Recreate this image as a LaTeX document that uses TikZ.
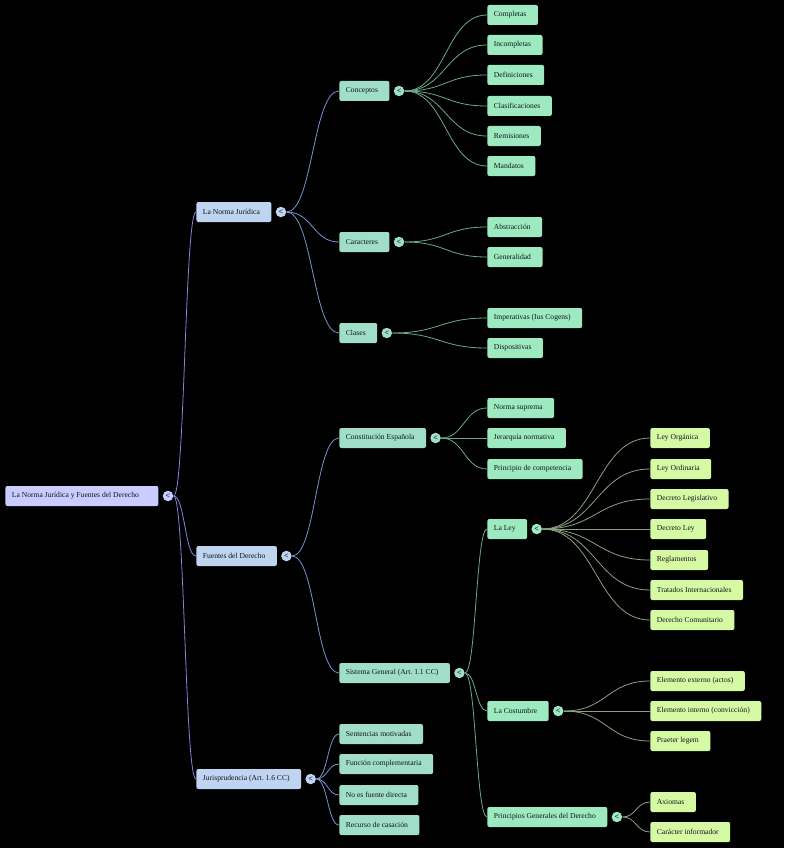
\documentclass[tikz,border=0pt]{standalone}
\usepackage{fontspec}
\setmainfont{Liberation Serif}
\usetikzlibrary{positioning,calc}
\definecolor{rootfill}{RGB}{200,204,255}
\definecolor{onefill}{RGB}{190,212,240}
\definecolor{twofill}{RGB}{160,222,202}
\definecolor{threefill}{RGB}{158,234,192}
\definecolor{fourfill}{RGB}{214,250,164}
\definecolor{linkroot}{RGB}{132,132,222}
\definecolor{linkone}{RGB}{118,150,210}
\definecolor{linktwo}{RGB}{108,168,140}
\definecolor{linkthree}{RGB}{138,160,128}
\definecolor{inktext}{RGB}{15,22,26}
\frenchspacing
% curved link from a toggle to a child box
\newcommand{\branch}[3]{%
  \draw[#1] let \p1=(#2.east), \p2=(#3.west) in
    (\p1) .. controls ({(\x1+\x2)/2},\y1) and ({(\x1+\x2)/2},\y2) .. (\p2);}

\begin{document}
\begin{tikzpicture}[x=1pt, y=-1pt, font=\fontsize{7.6}{9}\selectfont,
    box/.style={rounded corners=2pt, minimum height=20pt, inner xsep=6.5pt,
      inner ysep=0pt, anchor=west, text=inktext, execute at end node={\kern5pt}},
    tog/.style={circle, fill=#1, minimum size=10.5pt, inner sep=0pt, text=inktext,
      font=\fontsize{8}{8}\selectfont\bfseries},
    every path/.style={line width=0.8pt}]
  \fill[black] (0,0) rectangle (784,848);

  % root
  \node[box, fill=rootfill] (root) at (5,496) {La Norma Jurídica y Fuentes del Derecho\kern8pt};
  \node[tog=rootfill, right=3.5pt of root] (root-t) {<};

  % first level
  \node[box, fill=onefill] (norma) at (196,212) {La Norma Jurídica};
  \node[tog=onefill, right=3.5pt of norma] (norma-t) {<};
  \node[box, fill=onefill] (fuentes) at (196,556) {Fuentes del Derecho};
  \node[tog=onefill, right=3.5pt of fuentes] (fuentes-t) {<};
  \node[box, fill=onefill] (juris) at (196,779) {Jurisprudencia (Art. 1.6 CC)};
  \node[tog=onefill, right=3.5pt of juris] (juris-t) {<};

  % second level
  \node[box, fill=twofill] (conceptos) at (339,91) {Conceptos};
  \node[tog=twofill, right=3.5pt of conceptos] (conceptos-t) {<};
  \node[box, fill=twofill] (caracteres) at (339,242) {Caracteres};
  \node[tog=twofill, right=3.5pt of caracteres] (caracteres-t) {<};
  \node[box, fill=twofill] (clases) at (339,333) {Clases};
  \node[tog=twofill, right=3.5pt of clases] (clases-t) {<};
  \node[box, fill=twofill] (constit) at (339,438) {Constitución Española};
  \node[tog=twofill, right=3.5pt of constit] (constit-t) {<};
  \node[box, fill=twofill] (sistema) at (339,673) {Sistema General (Art. 1.1 CC)};
  \node[tog=twofill, right=3.5pt of sistema] (sistema-t) {<};
  \node[box, fill=twofill] (sentencias) at (339,734) {Sentencias motivadas};
  \node[box, fill=twofill] (funcion) at (339,764) {Función complementaria};
  \node[box, fill=twofill] (nofuente) at (339,795) {No es fuente directa};
  \node[box, fill=twofill] (recurso) at (339,825) {Recurso de casación};

  % third level
  \node[box, fill=threefill] (completas) at (487,15) {Completas};
  \node[box, fill=threefill] (incompletas) at (487,45) {Incompletas};
  \node[box, fill=threefill] (definiciones) at (487,75) {Definiciones};
  \node[box, fill=threefill] (clasif) at (487,106) {Clasificaciones};
  \node[box, fill=threefill] (remisiones) at (487,136) {Remisiones};
  \node[box, fill=threefill] (mandatos) at (487,166) {Mandatos};
  \node[box, fill=threefill] (abstraccion) at (487,227) {Abstracción};
  \node[box, fill=threefill] (generalidad) at (487,257) {Generalidad};
  \node[box, fill=threefill] (imperativas) at (487,318) {Imperativas (Ius Cogens)};
  \node[box, fill=threefill] (dispositivas) at (487,348) {Dispositivas};
  \node[box, fill=threefill] (suprema) at (487,408) {Norma suprema};
  \node[box, fill=threefill] (jerarquia) at (487,438) {Jerarquía normativa};
  \node[box, fill=threefill] (competencia) at (487,469) {Principio de competencia};
  \node[box, fill=threefill] (ley) at (487,529) {La Ley};
  \node[tog=threefill, right=3.5pt of ley] (ley-t) {<};
  \node[box, fill=threefill] (costumbre) at (487,711) {La Costumbre};
  \node[tog=threefill, right=3.5pt of costumbre] (costumbre-t) {<};
  \node[box, fill=threefill] (principios) at (487,817) {Principios Generales del Derecho};
  \node[tog=threefill, right=3.5pt of principios] (principios-t) {<};

  % fourth level
  \node[box, fill=fourfill] (organica) at (650,438) {Ley Orgánica};
  \node[box, fill=fourfill] (ordinaria) at (650,469) {Ley Ordinaria};
  \node[box, fill=fourfill] (legislativo) at (650,499) {Decreto Legislativo};
  \node[box, fill=fourfill] (decley) at (650,529) {Decreto Ley};
  \node[box, fill=fourfill] (reglamentos) at (650,560) {Reglamentos};
  \node[box, fill=fourfill] (tratados) at (650,590) {Tratados Internacionales};
  \node[box, fill=fourfill] (comunitario) at (650,620) {Derecho Comunitario};
  \node[box, fill=fourfill] (externo) at (650,681) {Elemento externo (actos)};
  \node[box, fill=fourfill] (interno) at (650,711) {Elemento interno (convicción)};
  \node[box, fill=fourfill] (praeter) at (650,741) {Praeter legem};
  \node[box, fill=fourfill] (axiomas) at (650,802) {Axiomas};
  \node[box, fill=fourfill] (informador) at (650,832) {Carácter informador};

  % links
  \foreach \kid in {norma,fuentes,juris}
    {\branch{linkroot}{root-t}{\kid}}
  \foreach \kid in {conceptos,caracteres,clases}
    {\branch{linkone}{norma-t}{\kid}}
  \foreach \kid in {constit,sistema}
    {\branch{linkone}{fuentes-t}{\kid}}
  \foreach \kid in {sentencias,funcion,nofuente,recurso}
    {\branch{linkone}{juris-t}{\kid}}
  \foreach \kid in {completas,incompletas,definiciones,clasif,remisiones,mandatos}
    {\branch{linktwo}{conceptos-t}{\kid}}
  \foreach \kid in {abstraccion,generalidad}
    {\branch{linktwo}{caracteres-t}{\kid}}
  \foreach \kid in {imperativas,dispositivas}
    {\branch{linktwo}{clases-t}{\kid}}
  \foreach \kid in {suprema,jerarquia,competencia}
    {\branch{linktwo}{constit-t}{\kid}}
  \foreach \kid in {ley,costumbre,principios}
    {\branch{linktwo}{sistema-t}{\kid}}
  \foreach \kid in {organica,ordinaria,legislativo,decley,reglamentos,tratados,comunitario}
    {\branch{linkthree}{ley-t}{\kid}}
  \foreach \kid in {externo,interno,praeter}
    {\branch{linkthree}{costumbre-t}{\kid}}
  \foreach \kid in {axiomas,informador}
    {\branch{linkthree}{principios-t}{\kid}}
\end{tikzpicture}
\end{document}
